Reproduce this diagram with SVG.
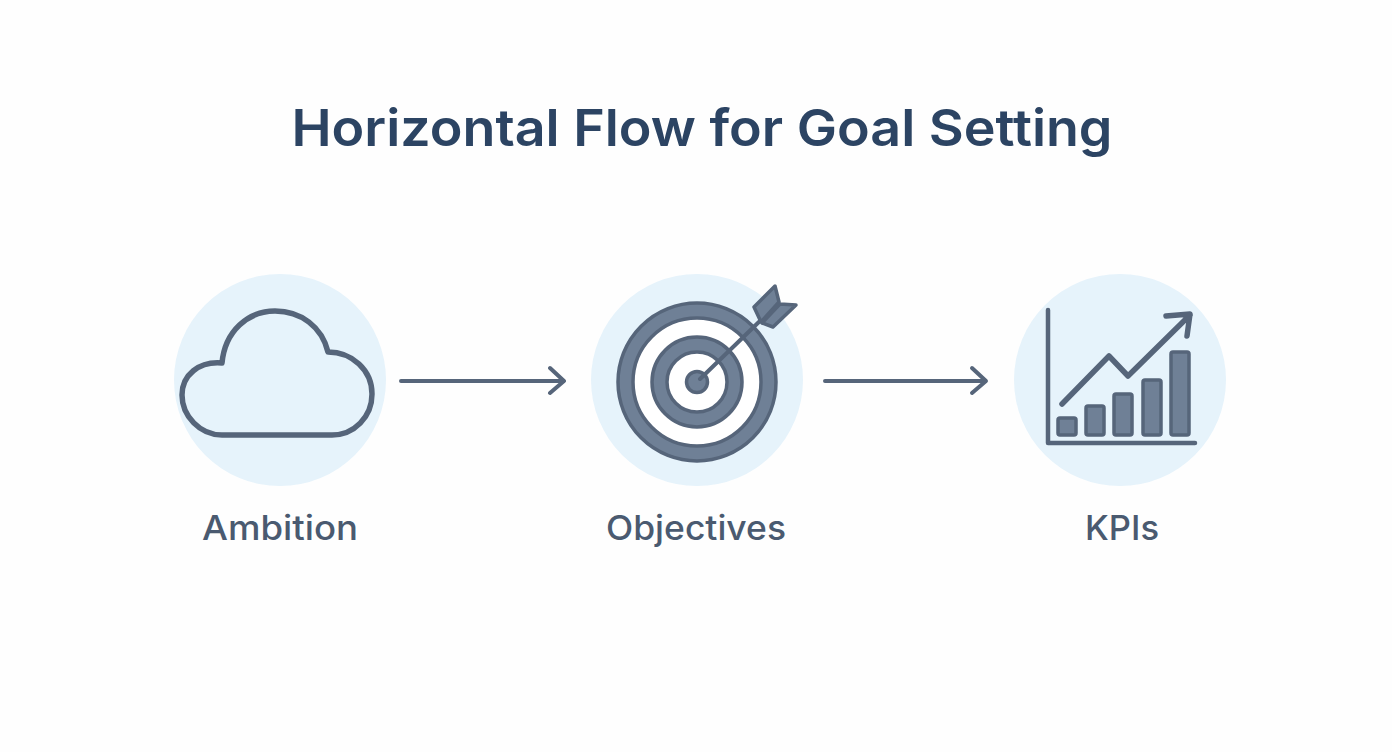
<svg xmlns="http://www.w3.org/2000/svg" width="1392" height="752" viewBox="0 0 1392 752">
<style>
.bg{fill:#e6f3fb}
.ln{fill:none;stroke:#56657a;stroke-linecap:round;stroke-linejoin:round}
.fl{fill:#6f8096;stroke:#56657a;stroke-width:3.5;stroke-linejoin:round}
.lb{font-family:"Inter","Noto Sans","Liberation Sans",sans-serif;font-size:34px;font-weight:500;fill:#4a5a70;text-anchor:middle}
.ti{font-family:"Inter","Noto Sans","Liberation Sans",sans-serif;font-size:51px;font-weight:600;fill:#2c4463;text-anchor:middle}
</style>
<rect width="1392" height="752" fill="#fefefe"/>
<text id="title" class="ti" x="702" y="146" textLength="821" lengthAdjust="spacingAndGlyphs">Horizontal Flow for Goal Setting</text>
<g id="connectors" class="ln" stroke-width="4">
<path d="M401 381H563M550 368L564 381L550 393"/>
<path d="M825 381H985M972 368L986 381L972 393"/>
</g>
<g id="ambition">
<circle class="bg" cx="280" cy="380" r="106"/>
<path class="ln" style="stroke-width:5.5" d="M222 363C225 331 248 311 275 311C301 311 322 327 328 352C352 352 372 370 372 394C372 417 354 435 332 435H222C200 435 182 416 182 395C182 375 199 361 222 363Z"/>
<text class="lb" x="280" y="540" textLength="156" lengthAdjust="spacingAndGlyphs">Ambition</text>
</g>
<g id="objectives">
<circle class="bg" cx="697" cy="380" r="106"/>
<circle cx="697" cy="382" r="79" fill="#6f8096" stroke="#56657a" stroke-width="3.500"/>
<circle cx="697" cy="382" r="64" fill="#fff" stroke="#56657a" stroke-width="3.500"/>
<circle cx="697" cy="382" r="45" fill="#6f8096" stroke="#56657a" stroke-width="3.500"/>
<circle cx="697" cy="382" r="30" fill="#fff" stroke="#56657a" stroke-width="3.500"/>
<circle cx="697" cy="382" r="10.500" fill="#6f8096" stroke="#56657a" stroke-width="3.500"/>
<path class="ln" style="stroke-width:4" d="M700 379L762 319"/>
<path class="fl" d="M754 307L775 286L779 302L761 322ZM762 323L780 304L796 305L773 327Z"/>
<text class="lb" x="696" y="540" textLength="180" lengthAdjust="spacingAndGlyphs">Objectives</text>
</g>
<g id="kpis">
<circle class="bg" cx="1120" cy="380" r="106"/>
<path class="ln" style="stroke-width:4.500" d="M1048 310V443H1195"/>
<path class="ln" style="stroke-width:5.500" d="M1062 404L1109 356L1128 376L1190 315M1166 316L1190 314L1187 336"/>
<rect class="fl" x="1058" y="418" width="18" height="17" rx="2"/>
<rect class="fl" x="1086" y="406" width="18" height="29" rx="2"/>
<rect class="fl" x="1114" y="394" width="18" height="41" rx="2"/>
<rect class="fl" x="1143" y="380" width="18" height="55" rx="2"/>
<rect class="fl" x="1171" y="352" width="18" height="83" rx="2"/>
<text class="lb" x="1122" y="540" textLength="74" lengthAdjust="spacingAndGlyphs">KPIs</text>
</g>
</svg>
